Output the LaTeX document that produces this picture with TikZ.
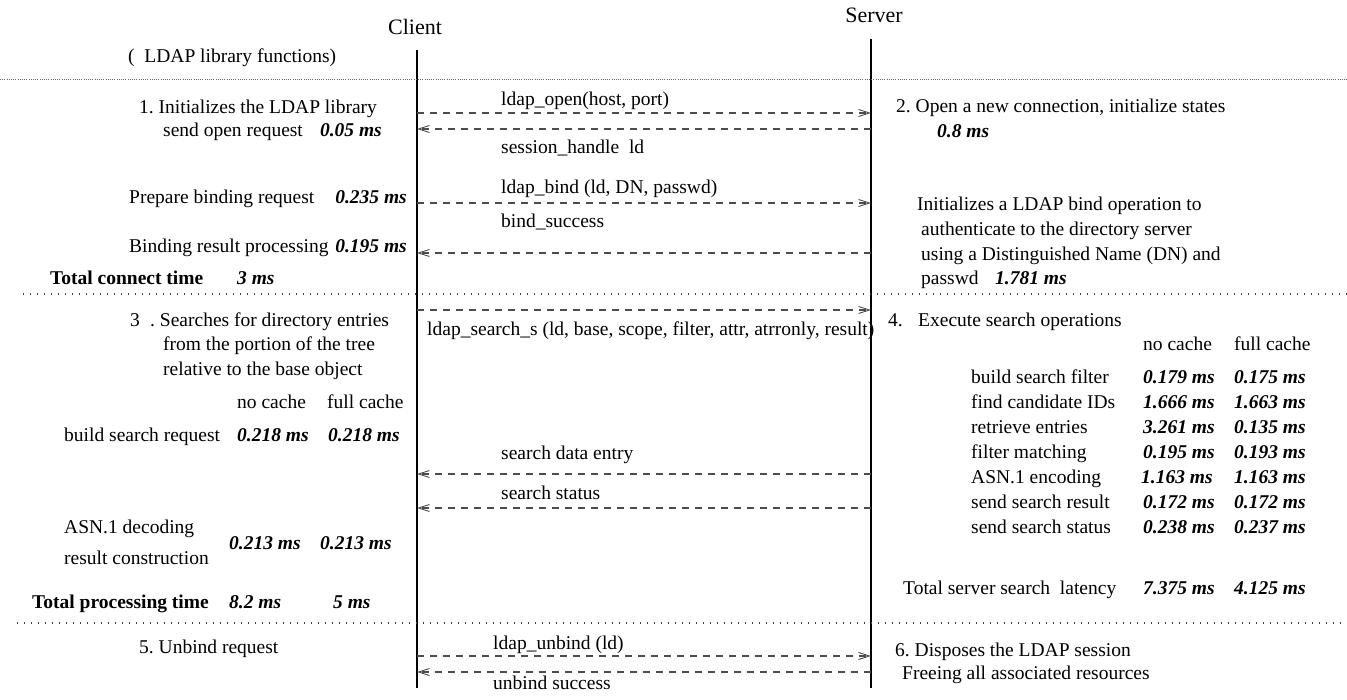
\documentclass[tikz,border=0pt]{standalone}
\usepackage{fontspec}
\setmainfont{Liberation Serif}
\usetikzlibrary{arrows.meta}
\newcommand{\bi}[1]{\textbf{\textit{#1}}}
\frenchspacing
\begin{document}
\begin{tikzpicture}[x=1pt,y=-1pt,
  txt/.style={anchor=base west,inner sep=0pt,font=\fontsize{19.5}{23}\selectfont},
  txtr/.style={anchor=base east,inner sep=0pt,font=\fontsize{19.5}{23}\selectfont},
  head/.style={anchor=center,inner sep=0pt,font=\fontsize{22}{26}\selectfont},
  life/.style={line width=1.8pt,black},
  msg/.style={line width=1.1pt,draw=black!70,dash pattern=on 7pt off 6pt,-{Straight Barb[length=11pt,width=7pt,line width=0.9pt]}},
  sepdense/.style={line width=1pt,draw=black!60,dash pattern=on 1pt off 1.2pt},
  sepdot/.style={line width=1.2pt,draw=black!75,dash pattern=on 1.2pt off 5.8pt}]
\useasboundingbox (0,0) rectangle (1347,700);
% headers
\node[head] (client) at (415,27) {Client};
\node[head] (server) at (874,15) {Server};
% lifelines
\coordinate (ctop) at (417,50);
\coordinate (cbot) at (417,688);
\coordinate (stop) at (871,39);
\coordinate (sbot) at (871,688);
\draw[life] (ctop) -- (cbot);
\draw[life] (stop) -- (sbot);
% separators
\coordinate (d1a) at (0,80); \coordinate (d1b) at (1347,80);
\coordinate (d2a) at (23,294); \coordinate (d2b) at (1347,294);
\coordinate (d3a) at (17,623); \coordinate (d3b) at (1347,623);
\draw[sepdense] (d1a) -- (d1b);
\draw[sepdot] (d2a) -- (d2b);
\draw[sepdot] (d3a) -- (d3b);
% messages
\foreach \n/\y in {a/113,b/129,c/203,d/253,e/310,f/474,g/508,h/656,i/672}{
  \coordinate (c\n) at (417,\y); \coordinate (s\n) at (871,\y);}
\draw[msg] (ca) -- (sa);
\draw[msg] (sb) -- (cb);
\draw[msg] (cc) -- (sc);
\draw[msg] (sd) -- (cd);
\draw[msg] (ce) -- (se);
\draw[msg] (sf) -- (cf);
\draw[msg] (sg) -- (cg);
\draw[msg] (ch) -- (sh);
\draw[msg] (si) -- (ci);
% message labels
\node[txt] (m1) at (501,106) {ldap\_open(host, port)};
\node[txt] (m2) at (501,154) {session\_handle\ \ ld};
\node[txt] (m3) at (501,194) {ldap\_bind (ld, DN, passwd)};
\node[txt] (m4) at (501,228) {bind\_success};
\node[txt] (m5) at (427,336) {ldap\_search\_s (ld, base, scope, filter, attr, atrronly, result)};
\node[txt] (m6) at (501,459) {search data entry};
\node[txt] (m7) at (501,499) {search status};
\node[txt] (m8) at (493,649) {ldap\_unbind (ld)};
\node[txt] (m9) at (493,689) {unbind success};
% left column
\node[txt] (l0) at (128,63) {(\ \ LDAP library functions)};
\node[txt] (l1) at (139,114) {1. Initializes the LDAP library};
\node[txt] (l2) at (163,137) {send open request};
\node[txtr] (l2v) at (382,137) {\bi{0.05 ms}};
\node[txt] (l3) at (129,204) {Prepare binding request};
\node[txtr] (l3v) at (407,204) {\bi{0.235 ms}};
\node[txt] (l4) at (129,253) {Binding result processing};
\node[txtr] (l4v) at (407,253) {\bi{0.195 ms}};
\node[txt] (l5) at (50,285) {\textbf{Total connect time}};
\node[txt] (l5v) at (237,285) {\bi{3 ms}};
\node[txt] (l6n) at (130,327) {3};
\node[txt] (l6) at (150,327) {. Searches for directory entries};
\node[txt] (l7) at (163,351) {from the portion of the tree};
\node[txt] (l8) at (163,376) {relative to the base object};
\node[txt] (l9a) at (237,409) {no cache};
\node[txt] (l9b) at (327,409) {full cache};
\node[txt] (l10) at (64,442) {build search request};
\node[txt] (l10a) at (237,442) {\bi{0.218 ms}};
\node[txt] (l10b) at (328,442) {\bi{0.218 ms}};
\node[txt] (l11) at (64,533) {ASN.1 decoding};
\node[txt] (l11a) at (229,549) {\bi{0.213 ms}};
\node[txt] (l11b) at (320,549) {\bi{0.213 ms}};
\node[txt] (l12) at (64,564) {result construction};
\node[txt] (l13) at (32,608) {\textbf{Total processing time}};
\node[txt] (l13a) at (229,608) {\bi{8.2 ms}};
\node[txt] (l13b) at (333,608) {\bi{5 ms}};
\node[txt] (l14) at (139,653) {5. Unbind request};
% right column
\node[txt] (r1) at (896,113) {2. Open a new connection, initialize states};
\node[txt] (r2) at (937,138) {\bi{0.8 ms}};
\node[txt] (r3) at (917,211) {Initializes a LDAP bind operation to};
\node[txt] (r4) at (921,236) {authenticate to the directory server};
\node[txt] (r5) at (921,261) {using a Distinguished Name (DN) and};
\node[txt] (r6) at (921,285) {passwd};
\node[txt] (r6v) at (995,285) {\bi{1.781 ms}};
\node[txt] (r7n) at (888,327) {4.};
\node[txt] (r7) at (918,327) {Execute search operations};
\node[txt] (r8a) at (1143,351) {no cache};
\node[txt] (r8b) at (1234,351) {full cache};
\foreach \lab/\va/\vb/\y/\xa [count=\i] in {
  build search filter/0.179 ms/0.175 ms/378/1143,
  find candidate IDs/1.666 ms/1.663 ms/403/1143,
  retrieve entries/3.261 ms/0.135 ms/428/1143,
  filter matching/0.195 ms/0.193 ms/452/1143,
  ASN.1 encoding/1.163 ms/1.163 ms/477/1141,
  send search result/0.172 ms/0.172 ms/502/1143,
  send search status/0.238 ms/0.237 ms/527/1143}{
  \node[txt] (rl\i) at (971,\y+6) {\lab};
  \node[txt] (ra\i) at (\xa,\y+6) {\bi{\va}};
  \node[txt] (rb\i) at (1234,\y+6) {\bi{\vb}};
}
\node[txt] (r9) at (903,594) {Total server search\ \ latency};
\node[txt] (r9a) at (1143,594) {\bi{7.375 ms}};
\node[txt] (r9b) at (1234,594) {\bi{4.125 ms}};
\node[txt] (r10) at (895,656) {6. Disposes the LDAP session};
\node[txt] (r11) at (902,679) {Freeing all associated resources};
\end{tikzpicture}
\end{document}
